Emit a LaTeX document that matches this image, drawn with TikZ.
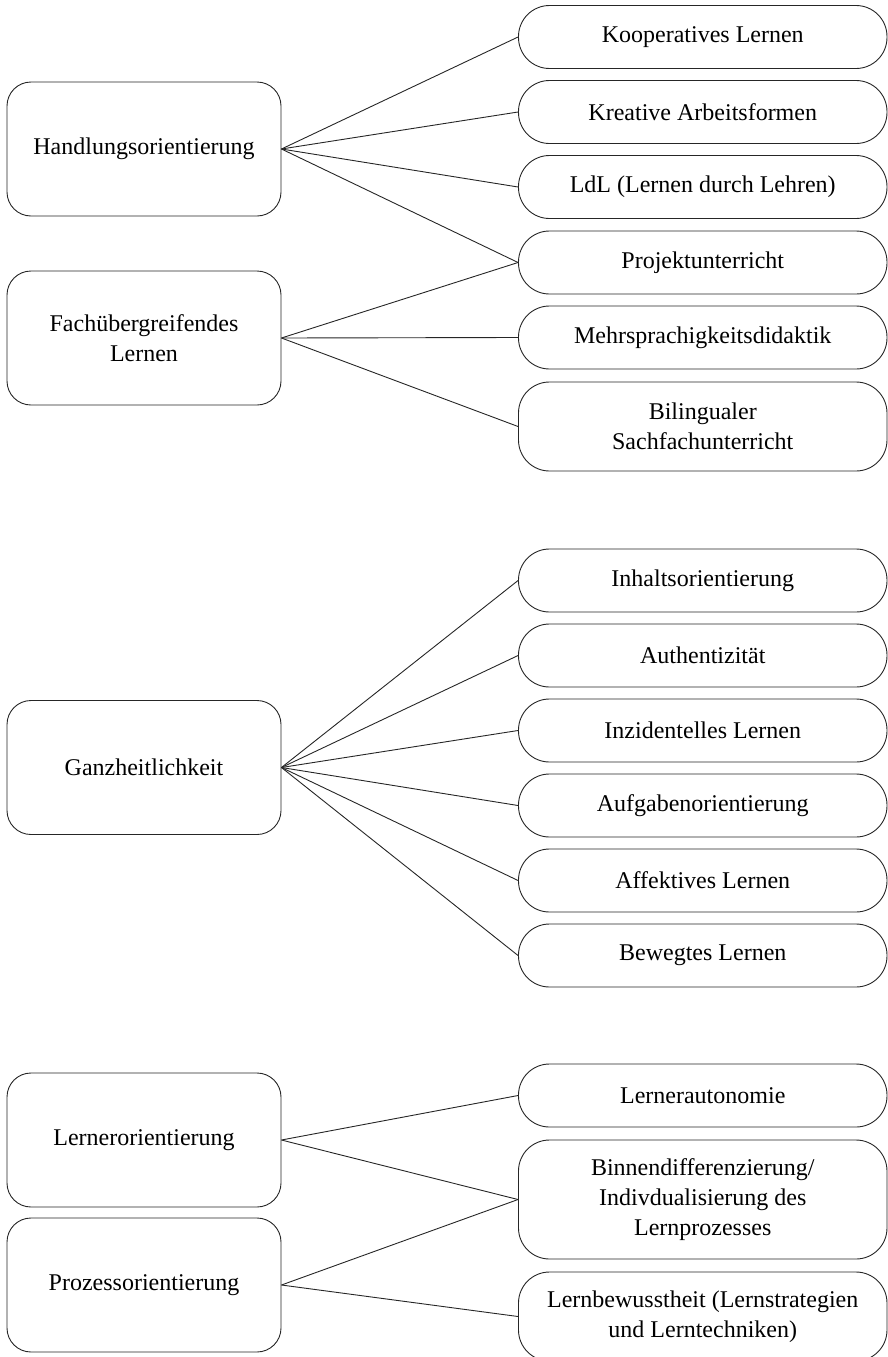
\documentclass[tikz,border=0pt]{standalone}
\usepackage{fontspec}
\setmainfont{Liberation Serif}
\begin{document}
\begin{tikzpicture}[x=1pt,y=-1pt,
  lbox/.style={draw=black!85, line width=0.9pt, rounded corners=24pt, minimum width=274pt, minimum height=134pt, inner sep=0pt, align=center, font=\fontsize{24}{30}\selectfont},
  rbox/.style={draw=black!85, line width=0.9pt, rounded corners=31pt, minimum width=368.5pt, inner sep=0pt, align=center, font=\fontsize{24}{30}\selectfont},
  one/.style={minimum height=63pt},
  two/.style={minimum height=89pt},
  three/.style={minimum height=119pt},
  conn/.style={draw=black!85, line width=0.9pt}]
\useasboundingbox (0,0) rectangle (888,1357);
% left boxes
\node[lbox] (hand) at (144,149) {Handlungsorientierung};
\node[lbox] (fach) at (144,338) {Fachübergreifendes\\Lernen};
\node[lbox] (ganz) at (144,767.5) {Ganzheitlichkeit};
\node[lbox] (lern) at (144,1140) {Lernerorientierung};
\node[lbox] (proz) at (144,1285) {Prozessorientierung};
% right boxes, top group
\node[rbox,one] (koop) at (702.75,37) {Kooperatives Lernen};
\node[rbox,one] (krea) at (702.75,112) {Kreative Arbeitsformen};
\node[rbox,one] (ldl) at (702.75,187) {LdL (Lernen durch Lehren)};
\node[rbox,one] (proj) at (702.75,262.5) {Projektunterricht};
\node[rbox,one] (mehr) at (702.75,337.5) {Mehrsprachigkeitsdidaktik};
\node[rbox,two] (bili) at (702.75,426.5) {Bilingualer\\Sachfachunterricht};
% middle group
\node[rbox,one] (inha) at (702.75,580.5) {Inhaltsorientierung};
\node[rbox,one] (auth) at (702.75,655.5) {Authentizität};
\node[rbox,one] (inzi) at (702.75,730.5) {Inzidentelles Lernen};
\node[rbox,one] (aufg) at (702.75,805.5) {Aufgabenorientierung};
\node[rbox,one] (affe) at (702.75,880.5) {Affektives Lernen};
\node[rbox,one] (bewe) at (702.75,955.5) {Bewegtes Lernen};
% bottom group
\node[rbox,one] (auto) at (702.75,1095.5) {Lernerautonomie};
\node[rbox,three] (binn) at (702.75,1199.5) {Binnendifferenzierung/\\Indivdualisierung des\\Lernprozesses};
\node[rbox,two] (bewu) at (702.75,1316.5) {Lernbewusstheit (Lernstrategien\\und Lerntechniken)};
% connectors
\foreach \t in {koop,krea,ldl,proj} \draw[conn] (hand.east) -- (\t.west);
\foreach \t in {proj,mehr,bili} \draw[conn] (fach.east) -- (\t.west);
\foreach \t in {inha,auth,inzi,aufg,affe,bewe} \draw[conn] (ganz.east) -- (\t.west);
\foreach \t in {auto,binn} \draw[conn] (lern.east) -- (\t.west);
\foreach \t in {binn,bewu} \draw[conn] (proz.east) -- (\t.west);
\end{tikzpicture}
\end{document}
